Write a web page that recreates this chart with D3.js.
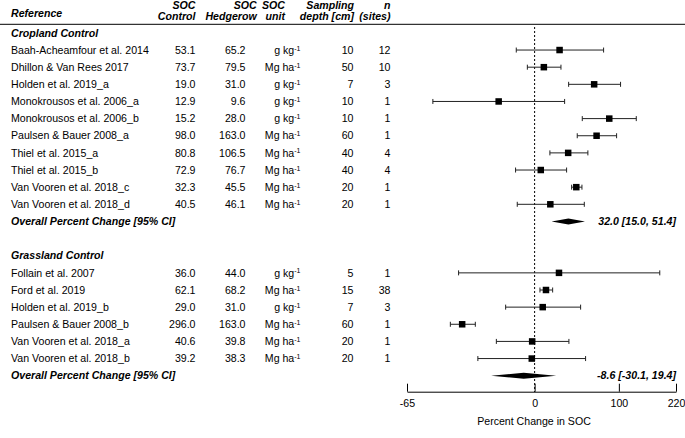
<!DOCTYPE html>
<html><head><meta charset="utf-8">
<script src="https://cdn.jsdelivr.net/npm/d3@7"></script>
<style>
html,body{margin:0;padding:0;background:#fff;}
svg text{font-family:"Liberation Sans",Arial,sans-serif;fill:#000;}
</style></head>
<body>
<svg id="c" width="685" height="438"></svg>
<script>
// ---------- data ----------
const cropRefs = ["Baah-Acheamfour et al. 2014","Dhillon & Van Rees 2017","Holden et al. 2019_a","Monokrousos et al. 2006_a","Monokrousos et al. 2006_b","Paulsen & Bauer 2008_a","Thiel et al. 2015_a","Thiel et al. 2015_b","Van Vooren et al. 2018_c","Van Vooren et al. 2018_d"];
const cropControl = [53.1,73.7,19.0,12.9,15.2,98.0,80.8,72.9,32.3,40.5];
const cropHedgerow = [65.2,79.5,31.0,9.6,28.0,163.0,106.5,76.7,45.5,46.1];
const cropUnit = ["g kg","Mg ha","g kg","g kg","g kg","Mg ha","Mg ha","Mg ha","Mg ha","Mg ha"];
const cropDepth = [10,50,7,10,10,60,40,40,20,20];
const cropN = [12,10,3,1,1,1,4,4,1,1];
const cropEffect = [22.8,7.9,63.2,-25.6,84.8,66.5,31.8,5.2,40.9,13.8];
const cropLow = [-14.0,-5.8,32.3,-56.7,48.0,42.0,13.4,-14.5,35.6,-13.3];
const cropHigh = [76.4,24.2,102.8,28.0,130.8,96.3,55.0,30.1,47.6,50.5];
const cropOverall = [32.0,15.0,51.4];

const grassRefs = ["Follain et al. 2007","Ford et al. 2019","Holden et al. 2019_b","Paulsen & Bauer 2008_b","Van Vooren et al. 2018_a","Van Vooren et al. 2018_b"];
const grassControl = [36.0,62.1,29.0,296.0,40.6,39.2];
const grassHedgerow = [44.0,68.2,31.0,163.0,39.8,38.3];
const grassUnit = ["g kg","Mg ha","g kg","Mg ha","Mg ha","Mg ha"];
const grassDepth = [5,15,7,60,20,20];
const grassN = [1,38,3,1,1,1];
const grassEffect = [22.2,9.8,6.9,-44.9,-2.0,-2.3];
const grassLow = [-46.5,4.5,-21.2,-50.0,-27.0,-37.3];
const grassHigh = [180.0,16.0,46.0,-38.6,32.6,52.1];
const grassOverall = [-8.6,-30.1,19.4];

const axisTicks = [-65,0,100,220];
const axisDomain = [-65,220];

// ---------- layout ----------
const svg = d3.select("#c");
const FS = 10.6;
const rowY = i => 32.9 + 17.14*i;
const lr = p => Math.log(1 + p/100);
const x = d3.scaleLinear().domain(axisDomain.map(lr)).range([407, 676]);

const cols = {ref:11, ctrl:195.5, hed:245.5, unit:300.5, depth:353.5, n:390.5};

function txt(xp, yc, s, anchor, bold){
  const t = svg.append("text").attr("x", xp).attr("y", yc).attr("dy","0.35em")
    .attr("font-size", FS).attr("text-anchor", anchor||"start").text(s);
  if(bold){ t.attr("font-weight","bold").attr("font-style","italic"); }
  return t;
}

// header
txt(cols.ref, 13.3, "Reference", "start", true);
[["SOC","Control",195.5],["SOC","Hedgerow",256.7],["SOC","unit",285],["Sampling","depth [cm]",354],["n","(sites)",390.5]]
 .forEach(h => { txt(h[2], 5, h[0], "end", true); txt(h[2], 15.8, h[1], "end", true); });
svg.append("line").attr("x1",0).attr("x2",685).attr("y1",24.3).attr("y2",24.3)
  .attr("stroke","#000").attr("stroke-width",1);

// zero line
svg.append("line").attr("x1",x(lr(0))).attr("x2",x(lr(0))).attr("y1",27).attr("y2",392)
  .attr("stroke","#000").attr("stroke-width",1).attr("stroke-dasharray","2,2");

function drawGroup(title, startRow, refs, ctrl, hed, unit, depth, n, eff, lo, hi, overall){
  txt(cols.ref, rowY(startRow), title, "start", true);
  refs.forEach((r,i) => {
    const y = rowY(startRow+1+i);
    txt(cols.ref, y, r);
    txt(cols.ctrl, y, ctrl[i].toFixed(1), "end");
    txt(cols.hed, y, hed[i].toFixed(1), "end");
    const u = txt(cols.unit, y, unit[i], "end");
    u.append("tspan").attr("font-size", 7).attr("dy", "-0.45em").text("-1");
    txt(cols.depth, y, String(depth[i]), "end");
    txt(cols.n, y, String(n[i]), "end");
    const x0 = x(lr(lo[i])), x1 = x(lr(hi[i]));
    svg.append("line").attr("x1",x0).attr("x2",x1).attr("y1",y).attr("y2",y)
      .attr("stroke","#222").attr("stroke-width",1);
    [x0,x1].forEach(xx => svg.append("line").attr("x1",xx).attr("x2",xx)
      .attr("y1",y-2.5).attr("y2",y+2.5).attr("stroke","#222").attr("stroke-width",1));
    const s = 6.5;
    svg.append("rect").attr("x", x(lr(eff[i]))-s/2).attr("y", y-s/2).attr("width",s).attr("height",s)
      .attr("fill","#000");
  });
  const yo = rowY(startRow+1+refs.length);
  txt(cols.ref, yo, "Overall Percent Change [95% CI]", "start", true);
  const pe = x(lr(overall[0])), pl = x(lr(overall[1])), ph = x(lr(overall[2]));
  svg.append("polygon").attr("points", [[pl,yo],[pe,yo-3],[ph,yo],[pe,yo+3]].map(p=>p.join(",")).join(" "))
    .attr("fill","#000");
  txt(676, yo, overall[0].toFixed(1) + " [" + overall[1].toFixed(1) + ", " + overall[2].toFixed(1) + "]", "end", true);
}

drawGroup("Cropland Control", 0, cropRefs, cropControl, cropHedgerow, cropUnit, cropDepth, cropN, cropEffect, cropLow, cropHigh, cropOverall);
drawGroup("Grassland Control", 13, grassRefs, grassControl, grassHedgerow, grassUnit, grassDepth, grassN, grassEffect, grassLow, grassHigh, grassOverall);

// axis
const ax = d3.axisBottom(x).tickValues(axisTicks.map(lr))
  .tickFormat((d,i) => String(axisTicks[i])).tickSize(-8).tickSizeOuter(0).tickPadding(8);
const g = svg.append("g").attr("transform","translate(0,391.7)").call(ax);
g.selectAll("text").attr("font-size", FS).attr("font-family",'"Liberation Sans",Arial,sans-serif').attr("y", 8);
g.selectAll("line").attr("stroke","#000");
g.select(".domain").attr("stroke","#000");
svg.append("text").attr("x", 534).attr("y", 421.7).attr("dy","0.35em").attr("font-size",FS)
  .attr("text-anchor","middle").text("Percent Change in SOC");
</script>
</body></html>
